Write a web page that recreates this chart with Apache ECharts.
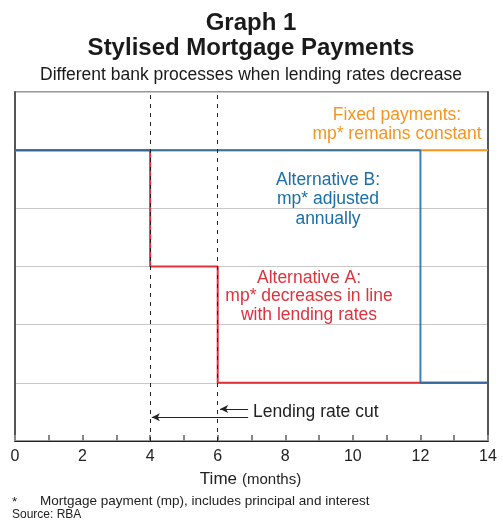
<!DOCTYPE html>
<html><head><meta charset="utf-8">
<script src="https://cdn.jsdelivr.net/npm/echarts@6/dist/echarts.min.js"></script>
<style>html,body{margin:0;padding:0;background:#fff}#c{width:503px;height:523px}</style>
</head><body><div id="c"></div>
<script>
const xTicks = [0,2,4,6,8,10,12,14];
const fixedPayments = [[0,5],[14,5]];
const altA = [[0,5],[4,5],[4,3],[6,3],[6,1],[14,1]];
const altB = [[0,5],[12,5],[12,1],[14,1]];
const rateCuts = [4,6];

const F = '"Liberation Sans", Arial, sans-serif';
const T = (text,x,y,size,color,align,weight)=>({type:'text',silent:true,style:{text,x,y:y+1,align:align||'center',verticalAlign:'middle',fill:color||'#1a1a1a',font:(weight?weight+' ':'')+size+'px '+F}});
const chart = echarts.init(document.getElementById('c'));
chart.setOption({
  animation:false,
  backgroundColor:'#fff',
  textStyle:{fontFamily:F},
  grid:{left:15,right:15,top:92,bottom:82,show:true,borderColor:'#333',borderWidth:1},
  xAxis:{type:'value',min:0,max:14,interval:1,
    axisLine:{show:true,lineStyle:{color:'#222',width:1}},
    axisTick:{show:true,inside:true,length:6,lineStyle:{color:'#888',width:2}},
    axisLabel:{fontFamily:F,fontSize:16,color:'#222',margin:8,formatter:v=>xTicks.includes(v)?String(v):''},
    splitLine:{show:false}
  },
  yAxis:[
    {type:'value',min:0,max:6,interval:1,axisLabel:{show:false},axisTick:{show:false},
     axisLine:{show:true,lineStyle:{color:'#555',width:2}},splitLine:{show:true,lineStyle:{color:'#c8c8c8',width:1}}},
    {type:'value',min:0,max:6,interval:1,position:'right',axisLabel:{show:false},axisTick:{show:false},
     axisLine:{show:true,lineStyle:{color:'#555',width:2}},splitLine:{show:false}}
  ],
  series:[
    {type:'line',data:fixedPayments,symbol:'none',lineStyle:{color:'#f7941d',width:2},z:2,
     markLine:{silent:true,symbol:'none',label:{show:false},lineStyle:{color:'#222',type:[4,5],width:1},
       data:rateCuts.map(v=>({xAxis:v}))}},
    {type:'line',data:altA,symbol:'none',lineStyle:{color:'#e0323c',width:2},z:3},
    {type:'line',data:altB,symbol:'none',lineStyle:{color:'#1a6fa8',width:2,opacity:0.85},z:4,
     markLine:{silent:true,symbol:['none','arrow'],symbolSize:[6,8],label:{show:false},lineStyle:{color:'#222',type:'solid',width:1},
       data:[
         [{coord:[6.9,0.41]},{coord:[4.05,0.41]}],
         [{coord:[6.9,0.55]},{coord:[6.07,0.55]}]
       ]}}
  ],
  graphic:[
    T('Graph 1',251,22,24,'#1a1a1a','center','bold'),
    T('Stylised Mortgage Payments',251,47.5,24,'#1a1a1a','center','bold'),
    T('Different bank processes when lending rates decrease',251,74,17.5,'#1a1a1a','center'),
    T('Fixed payments:',397,114,17.5,'#f7941d'),
    T('mp* remains constant',397,133,17.5,'#f7941d'),
    T('Alternative B:',328,179,17.5,'#1a6fa8'),
    T('mp* adjusted',328,198,17.5,'#1a6fa8'),
    T('annually',328,218,17.5,'#1a6fa8'),
    T('Alternative A:',309,277,17.5,'#e0323c'),
    T('mp* decreases in line',309,295,17.5,'#e0323c'),
    T('with lending rates',309,314,17.5,'#e0323c'),
    T('Lending rate cut',253,411,17.5,'#222','left'),
    T('Time',237,478,17,'#222','right'),
    T('(months)',242,479,15,'#222','left'),
    T('*',12,501,13.5,'#222','left'),
    T('Mortgage payment (mp), includes principal and interest',40,500,13.5,'#222','left'),
    T('Source: RBA',12,514,12,'#222','left')
  ]
});
</script></body></html>
